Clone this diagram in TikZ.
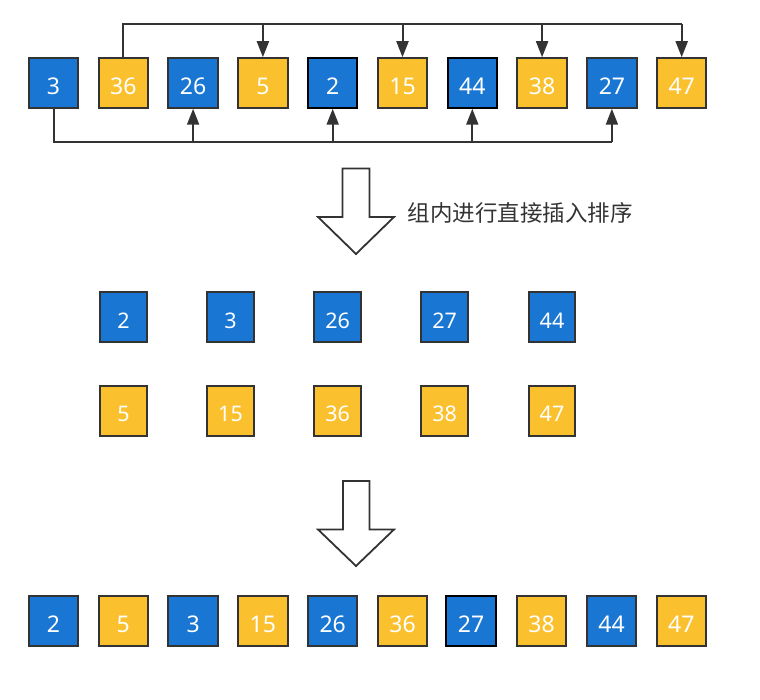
\documentclass[tikz,border=0pt]{standalone}
\usepackage{fontspec}
\setmainfont{Noto Sans}
\newfontfamily\cjk{Noto Sans CJK SC}
\usetikzlibrary{arrows.meta}
\definecolor{bblue}{HTML}{1976D2}
\definecolor{byel}{HTML}{FBC02D}
\definecolor{edgec}{HTML}{333333}
\begin{document}
\begin{tikzpicture}[x=1pt,y=-1pt,
  cell/.style={draw=edgec, line width=2pt, minimum width=49.5pt, minimum height=49.5pt,
    inner sep=0pt, text=white, text height=22.5pt, text depth=0pt,
    font=\fontsize{23}{23}\selectfont},
  bcell/.style={cell, fill=bblue},
  ycell/.style={cell, fill=byel},
  hl/.style={draw=black},
  midcell/.style={minimum width=46.5pt, minimum height=50pt, font=\fontsize{21.5}{21.5}\selectfont},
  conn/.style={draw=edgec, line width=2pt},
  tip/.style={conn, -{Triangle[width=12pt,length=16pt]}},
  bigarrow/.style={draw=edgec, line width=1.8pt, fill=white, line join=miter},
  caption/.style={font=\cjk\fontsize{22.5}{22.5}\selectfont, text=edgec, inner sep=0pt, anchor=west}
]
\useasboundingbox (0,0) rectangle (760,700);

% top row
\node[bcell]    (t1)  at (53.5,83)  {3};
\node[ycell]    (t2)  at (123.3,83) {36};
\node[bcell]    (t3)  at (193.1,83) {26};
\node[ycell]    (t4)  at (262.9,83) {5};
\node[bcell,hl] (t5)  at (332.7,83) {2};
\node[ycell]    (t6)  at (402.5,83) {15};
\node[bcell,hl] (t7)  at (472.3,83) {44};
\node[ycell]    (t8)  at (542.1,83) {38};
\node[bcell]    (t9)  at (611.9,83) {27};
\node[ycell]    (t10) at (681.7,83) {47};

\coordinate (ttop) at (0,24);
\coordinate (tbot) at (0,142);
\draw[conn] (t2.north) |- (t10.north |- ttop);
\foreach \i in {4,6,8,10} \draw[tip] (t\i.north |- ttop) -- (t\i.north);
\draw[conn] (t1.south) |- (t9.south |- tbot);
\foreach \i in {3,5,7,9} \draw[tip] (t\i.south |- tbot) -- (t\i.south);

% first big arrow and caption
\draw[bigarrow] (342.5,168.5) -- (369.5,168.5) -- (369.5,217) -- (394,217) -- (356,254)
  -- (318,217) -- (342.5,217) -- cycle;
\node[caption] (cap) at (407.5,213) {组内进行直接插入排序};

% middle groups
\node[bcell,midcell] (m1) at (123.5,317) {2};
\node[bcell,midcell] (m2) at (230.5,317) {3};
\node[bcell,midcell] (m3) at (337.7,317) {26};
\node[bcell,midcell] (m4) at (444.7,317) {27};
\node[bcell,midcell] (m5) at (552,317)   {44};
\node[ycell,midcell] (n1) at (123.5,410.5) {5};
\node[ycell,midcell] (n2) at (230.5,410.5) {15};
\node[ycell,midcell] (n3) at (337.7,410.5) {36};
\node[ycell,midcell] (n4) at (444.7,410.5) {38};
\node[ycell,midcell] (n5) at (552,410.5)   {47};

% second big arrow
\draw[bigarrow] (343,481) -- (369.5,481) -- (369.5,529.5) -- (394,529.5) -- (356,566)
  -- (318,529.5) -- (343,529.5) -- cycle;

% bottom row
\node[bcell]    (b1)  at (53.5,621)  {2};
\node[ycell]    (b2)  at (123.3,621) {5};
\node[bcell]    (b3)  at (193.1,621) {3};
\node[ycell]    (b4)  at (262.9,621) {15};
\node[bcell]    (b5)  at (332.7,621) {26};
\node[ycell]    (b6)  at (402.5,621) {36};
\node[bcell,hl] (b7)  at (471,621)   {27};
\node[ycell]    (b8)  at (541.5,621) {38};
\node[bcell]    (b9)  at (611.5,621) {44};
\node[ycell]    (b10) at (681.3,621) {47};
\end{tikzpicture}
\end{document}
